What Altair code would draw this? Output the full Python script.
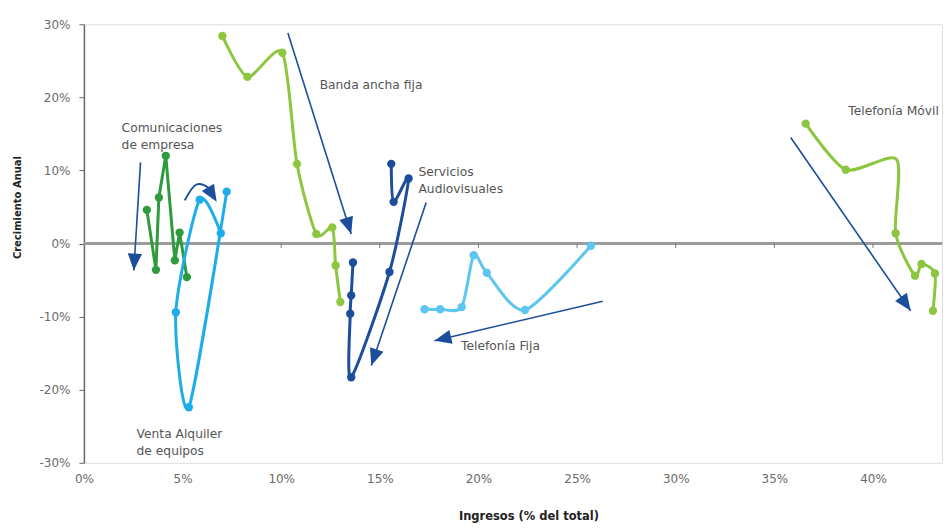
import math
import altair as alt
import pandas as pd

# ---------------- data ----------------
series = ["Comunicaciones de empresa", "Venta Alquiler de equipos", "Banda ancha fija",
          "Servicios Audiovisuales", "Telefonía Fija", "Telefonía Móvil"]
colores = ["#2e9b3e", "#1daeea", "#8dc63f", "#1c4e9b", "#5cc6f0", "#8cc641"]

com_x = [3.19, 3.65, 3.80, 4.15, 4.61, 4.85, 5.22]
com_y = [4.6, -3.6, 6.3, 12.0, -2.3, 1.5, -4.6]
ven_x = [7.24, 5.32, 4.66, 5.87, 6.94]
ven_y = [7.1, -22.4, -9.4, 6.0, 1.4]
ban_x = [7.02, 8.29, 10.06, 10.80, 11.78, 12.59, 12.76, 13.00]
ban_y = [28.4, 22.8, 26.1, 10.9, 1.3, 2.2, -3.0, -8.0]
ser_x = [15.58, 15.70, 16.46, 15.49, 13.55, 13.50, 13.55, 13.64]
ser_y = [10.9, 5.7, 8.9, -3.9, -18.3, -9.6, -7.1, -2.6]
fij_x = [25.70, 22.36, 20.42, 19.76, 19.15, 18.06, 17.27]
fij_y = [-0.3, -9.1, -4.0, -1.6, -8.7, -9.0, -9.0]
mov_x = [36.59, 38.62, 41.20, 41.15, 42.13, 42.46, 43.14, 43.04]
mov_y = [16.4, 10.1, 11.5, 1.4, -4.4, -2.8, -4.1, -9.2]
mov_sin_marcador = [2]

# straight arrows (start -> tip)
flecha_x0 = [2.87, 10.34, 17.35, 26.30, 35.83]
flecha_y0 = [11.1, 28.8, 5.6, -7.9, 14.5]
flecha_x1 = [2.53, 13.55, 14.57, 17.77, 41.91]
flecha_y1 = [-3.7, 1.3, -16.7, -13.3, -9.2]
# curved arrow (Venta Alquiler de equipos)
arco_x = [5.11, 5.72, 6.28, 6.73]
arco_y = [5.9, 8.1, 7.7, 5.7]

etiquetas = ["Comunicaciones\nde empresa", "Venta Alquiler\nde equipos", "Banda ancha fija",
             "Servicios\nAudiovisuales", "Telefonía Fija", "Telefonía Móvil"]
etq_x = [1.91, 2.67, 11.95, 16.96, 19.12, 38.75]
etq_y = [15.8, -26.1, 21.7, 9.8, -14.0, 18.1]

x_ticks = [0, 5, 10, 15, 20, 25, 30, 35, 40]
y_ticks = [-30, -20, -10, 0, 10, 20, 30]
marcas_cero = [5, 10, 15, 20, 25, 30, 35, 40]

X_MAX = 43.5
W, H = 859, 439

# ---------------- tables ----------------
rows = []
for name, xs, ys, suave, ocultos in [
    (series[0], com_x, com_y, False, []),
    (series[1], ven_x, ven_y, True, []),
    (series[2], ban_x, ban_y, True, []),
    (series[3], ser_x, ser_y, True, []),
    (series[4], fij_x, fij_y, True, []),
    (series[5], mov_x, mov_y, True, mov_sin_marcador),
]:
    for i, (a, b) in enumerate(zip(xs, ys)):
        rows.append(dict(serie=name, x=a, y=b, orden=i, suave=suave, marcador=i not in ocultos))
df = pd.DataFrame(rows)

sx, sy = W / X_MAX, H / 60.0


def angulo(xa, ya, xb, yb):
    dx = (xb - xa) * sx
    dy = -(yb - ya) * sy
    return math.degrees(math.atan2(dx, -dy)) % 360


flechas = pd.DataFrame(dict(x=flecha_x0, y=flecha_y0, x1=flecha_x1, y1=flecha_y1))
cabezas = pd.DataFrame(dict(
    x=flecha_x1 + [arco_x[-1]],
    y=flecha_y1 + [arco_y[-1]],
    ang=[angulo(a, b, c, d) for a, b, c, d in zip(flecha_x0, flecha_y0, flecha_x1, flecha_y1)]
        + [angulo(arco_x[-2], arco_y[-2], arco_x[-1], arco_y[-1])],
))
arco = pd.DataFrame(dict(x=arco_x[:-1] + [arco_x[-1] - 0.12], y=arco_y[:-1] + [arco_y[-1] + 0.6],
                         orden=list(range(len(arco_x)))))
textos = pd.DataFrame(dict(x=etq_x, y=etq_y, t=etiquetas))
ceros = pd.DataFrame(dict(x=marcas_cero))

# ---------------- encodings ----------------
def X():
    return alt.X("x:Q", scale=alt.Scale(domain=[0, X_MAX], nice=False, zero=False),
                 title="Ingresos (% del total)",
                 axis=alt.Axis(values=x_ticks, labelExpr="datum.value + '%'", domain=False,
                               ticks=False, grid=False, labelPadding=11, labelFlush=False,
                               labelFont="DejaVu Sans",
                               labelFontSize=12, labelColor="#6a6a6a", titleFont="DejaVu Sans",
                               titleFontSize=11.5, titleFontWeight="bold", titleColor="#222",
                               titleX=445, titleY=54, titleBaseline="middle"))


def Y():
    return alt.Y("y:Q", scale=alt.Scale(domain=[-30, 30], nice=False),
                 title="Crecimiento Anual",
                 axis=alt.Axis(values=y_ticks, labelExpr="datum.value + '%'", grid=False,
                               domainColor="#666", domainWidth=1.5, tickColor="#666",
                               tickSize=5, labelPadding=9, labelFont="DejaVu Sans",
                               labelFontSize=12, labelColor="#6a6a6a", titleFont="DejaVu Sans",
                               titleFontSize=10, titleFontWeight="bold", titleColor="#222",
                               titleX=-66, titleY=183, titleAngle=270, titleAlign="center",
                               titleBaseline="middle"))


color = alt.Color("serie:N", scale=alt.Scale(domain=series, range=colores), legend=None)

cero = alt.Chart(ceros).mark_rule(color="#9b9b9b", strokeWidth=2).encode(y=alt.datum(0))
marcas = alt.Chart(ceros).mark_rule(color="#777", strokeWidth=1).encode(
    x=X(), y=alt.datum(0), y2=alt.datum(-0.6))

lin_suave = alt.Chart(df).transform_filter("datum.suave").mark_line(
    interpolate="cardinal", tension=0.25, strokeWidth=3).encode(
        x=X(), y=Y(), color=color, detail="serie:N", order="orden:Q")
lin_recta = alt.Chart(df).transform_filter("!datum.suave").mark_line(
    strokeWidth=3).encode(x=X(), y=Y(), color=color, detail="serie:N", order="orden:Q")
puntos = alt.Chart(df).transform_filter("datum.marcador").mark_circle(
    size=70, opacity=1).encode(x=X(), y=Y(), color=color)

ejes = alt.Chart(flechas).mark_rule(color="#1c4e9b", strokeWidth=1.6).encode(
    x=X(), y=Y(), x2="x1:Q", y2="y1:Q")
curva = alt.Chart(arco).mark_line(color="#1c4e9b", strokeWidth=2,
                                   interpolate="catmull-rom").encode(x=X(), y=Y(), order="orden:Q")
puntas = alt.Chart(cabezas).mark_point(
    shape="M0,0 L-0.42,1 L0.42,1 Z", filled=True, opacity=1, color="#1c4e9b",
    size=1150, strokeWidth=0).encode(x=X(), y=Y(), angle=alt.Angle("ang:Q", scale=None))

rotulos = alt.Chart(textos).mark_text(
    align="left", baseline="middle", font="DejaVu Sans", fontSize=12.3, color="#555",
    lineBreak="\n", lineHeight=17).encode(x=X(), y=Y(), text="t:N")

chart = alt.layer(cero, marcas, lin_recta, lin_suave, puntos, ejes, curva, puntas, rotulos).properties(
    width=W, height=H, padding={"left": 5, "top": 10, "right": 0, "bottom": 0}
).configure_view(stroke=None).configure(background="white")

chart.save("out.html", embed_options={"renderer": "svg", "actions": False})
